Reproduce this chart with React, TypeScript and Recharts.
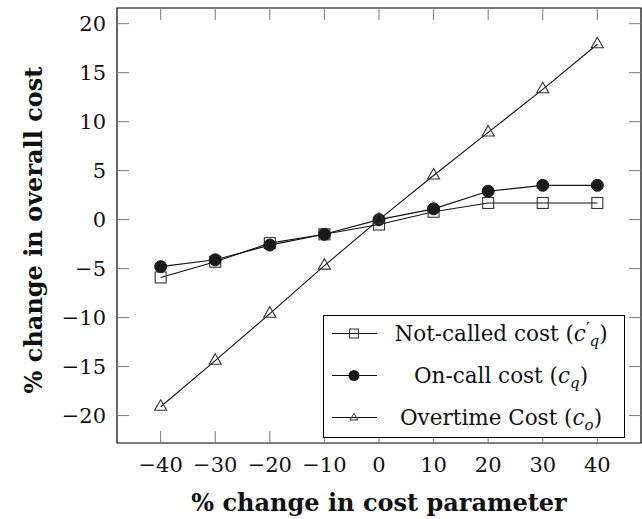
import { LineChart, Line, XAxis, YAxis, ReferenceArea, Legend } from "recharts";

const costChange = [-40, -30, -20, -10, 0, 10, 20, 30, 40];
const notCalledCost = [-5.9, -4.3, -2.4, -1.5, -0.5, 0.8, 1.7, 1.7, 1.7];
const onCallCost = [-4.8, -4.1, -2.6, -1.5, 0, 1.1, 2.9, 3.5, 3.5];
const overtimeCost = [-19.1, -14.4, -9.6, -4.7, 0, 4.5, 8.9, 13.3, 17.9];

const xTicks = [-40, -30, -20, -10, 0, 10, 20, 30, 40];
const yTicks = [-20, -15, -10, -5, 0, 5, 10, 15, 20];

const data = costChange.map((x, i) => ({
  x,
  notCalled: notCalledCost[i],
  onCall: onCallCost[i],
  overtime: overtimeCost[i],
}));

const FONT = "'DejaVu Serif', serif";
const PLOT_TOP = 8;
const PLOT_BOTTOM = 443;
const PLOT_LEFT = 117;
const PLOT_RIGHT = 641;
const TICK_LEN = 12;
const TICK_COLOR = "#7a7a7a";

const fmt = (v: number) => (v < 0 ? `\u2212${-v}` : `${v}`);

// pgfplots style: ticks point inward, mirrored on the opposite side
const XTick = (props: any) => {
  const { x, payload } = props;
  return (
    <g>
      <line x1={x} x2={x} y1={PLOT_BOTTOM} y2={PLOT_BOTTOM - TICK_LEN} stroke={TICK_COLOR} />
      <line x1={x} x2={x} y1={PLOT_TOP} y2={PLOT_TOP + TICK_LEN} stroke={TICK_COLOR} />
      <text x={x} y={471.5} textAnchor="middle" fontFamily={FONT} fontSize={21} fill="#111">
        {fmt(payload.value)}
      </text>
    </g>
  );
};

const YTick = (props: any) => {
  const { y, payload } = props;
  return (
    <g>
      <line x1={PLOT_LEFT} x2={PLOT_LEFT + TICK_LEN} y1={y} y2={y} stroke={TICK_COLOR} />
      <line x1={PLOT_RIGHT} x2={PLOT_RIGHT - TICK_LEN} y1={y} y2={y} stroke={TICK_COLOR} />
      <text x={106} y={y + 7.5} textAnchor="end" fontFamily={FONT} fontSize={21} fill="#111">
        {fmt(payload.value)}
      </text>
    </g>
  );
};

const SquareDot = (props: any) => {
  const { cx, cy, index } = props;
  return <rect key={`sq-${index}`} x={cx - 5.5} y={cy - 5.5} width={11} height={11} fill="none" stroke="#333" strokeWidth={1.1} />;
};

const CircleDot = (props: any) => {
  const { cx, cy, index } = props;
  return <circle key={`ci-${index}`} cx={cx} cy={cy} r={6} fill="#1a1a1a" stroke="#1a1a1a" />;
};

const TriangleDot = (props: any) => {
  const { cx, cy, index } = props;
  const r = 7;
  const pts = `${cx},${cy - r} ${cx + r * 0.866},${cy + r / 2} ${cx - r * 0.866},${cy + r / 2}`;
  return <polygon key={`tr-${index}`} points={pts} fill="none" stroke="#333" strokeWidth={1.1} />;
};

const subStyle = { fontSize: "0.7em", verticalAlign: "-0.35em", lineHeight: 0 };
const supStyle = { fontSize: "0.75em", verticalAlign: "0.45em", lineHeight: 0 };

// c with subscript (and optional prime)
const Sym = ({ sub, prime }: { sub: string; prime?: boolean }) => (
  <span style={{ whiteSpace: "nowrap" }}>
    <i>c</i>
    {prime ? <span style={supStyle}>′</span> : null}
    <i style={subStyle}>{sub}</i>
  </span>
);

const legendLabels: Record<string, any> = {
  notCalled: <>Not-called cost (<Sym sub="q" prime />)</>,
  onCall: <>On-call cost (<Sym sub="q" />)</>,
  overtime: <>Overtime Cost (<Sym sub="o" />)</>,
};

const markerFor = (key: string) => {
  if (key === "notCalled") return <rect x={17.5} y={10} width={9} height={9} fill="none" stroke="#333" />;
  if (key === "onCall") return <circle cx={22} cy={14.5} r={5.5} fill="#1a1a1a" />;
  return <polygon points="22,10.5 26,17 18,17" fill="none" stroke="#333" />;
};

const renderLegend = (props: any) => {
  const { payload } = props;
  return (
    <div
      style={{
        border: "1px solid #000",
        background: "#fff",
        width: 302,
        height: 123,
        boxSizing: "border-box",
        fontFamily: FONT,
        fontSize: 21.5,
        color: "#111",
      }}
    >
      <div style={{ position: "relative", top: -4 }}>
        {payload.map((entry: any, i: number) => (
          <div key={`item-${i}`} style={{ display: "flex", alignItems: "center", height: 42 }}>
            <svg width={48} height={29} style={{ marginLeft: 8, flex: "none" }}>
              <line x1={0} x2={45} y1={14.5} y2={14.5} stroke="#111" strokeWidth={1.1} />
              {markerFor(entry.dataKey)}
            </svg>
            <div style={{ flex: 1, textAlign: "center", whiteSpace: "nowrap", paddingRight: 2 }}>
              {legendLabels[entry.dataKey]}
            </div>
          </div>
        ))}
      </div>
    </div>
  );
};

const App = () => {
  return (
    <div style={{ position: "absolute", left: 0, top: 0, background: "#fff" }}>
      <LineChart width={642} height={519} data={data} margin={{ top: PLOT_TOP, right: 1, bottom: 0, left: 0 }}>
        <XAxis
          dataKey="x"
          type="number"
          domain={[-48, 48]}
          ticks={xTicks}
          height={76}
          tickLine={false}
          axisLine={false}
          tick={<XTick />}
          interval={0}
          label={{
            content: (p: any) => {
              const vb = p.viewBox;
              return (
                <text x={vb.x + vb.width / 2} y={510.5} textAnchor="middle" fontFamily={FONT} fontWeight="bold" fontSize={24} fill="#111">
                  % change in cost parameter
                </text>
              );
            },
          }}
        />
        <YAxis
          type="number"
          domain={[-22.8, 21.6]}
          ticks={yTicks}
          width={117}
          tickLine={false}
          axisLine={false}
          tick={<YTick />}
          interval={0}
          allowDataOverflow
          label={{
            content: () => (
              <text
                transform="translate(41.5, 230) rotate(-90)"
                textAnchor="middle"
                fontFamily={FONT}
                fontWeight="bold"
                fontSize={24}
                fill="#111"
              >
                % change in overall cost
              </text>
            ),
          }}
        />
        <ReferenceArea x1={-48} x2={48} y1={-22.8} y2={21.6} fill="none" stroke="#000" strokeWidth={1.2} ifOverflow="visible" />
        <Line dataKey="notCalled" name="Not-called cost" stroke="#111" strokeWidth={1.1} dot={SquareDot} activeDot={false} isAnimationActive={false} />
        <Line dataKey="onCall" name="On-call cost" stroke="#111" strokeWidth={1.1} dot={CircleDot} activeDot={false} isAnimationActive={false} />
        <Line dataKey="overtime" name="Overtime Cost" stroke="#111" strokeWidth={1.1} dot={TriangleDot} activeDot={false} isAnimationActive={false} />
        <Legend
          layout="horizontal"
          verticalAlign="middle"
          align="center"
          content={renderLegend}
          wrapperStyle={{ left: 323, top: 315, width: 302, height: 123 }}
        />
      </LineChart>
    </div>
  );
};

export default App;
